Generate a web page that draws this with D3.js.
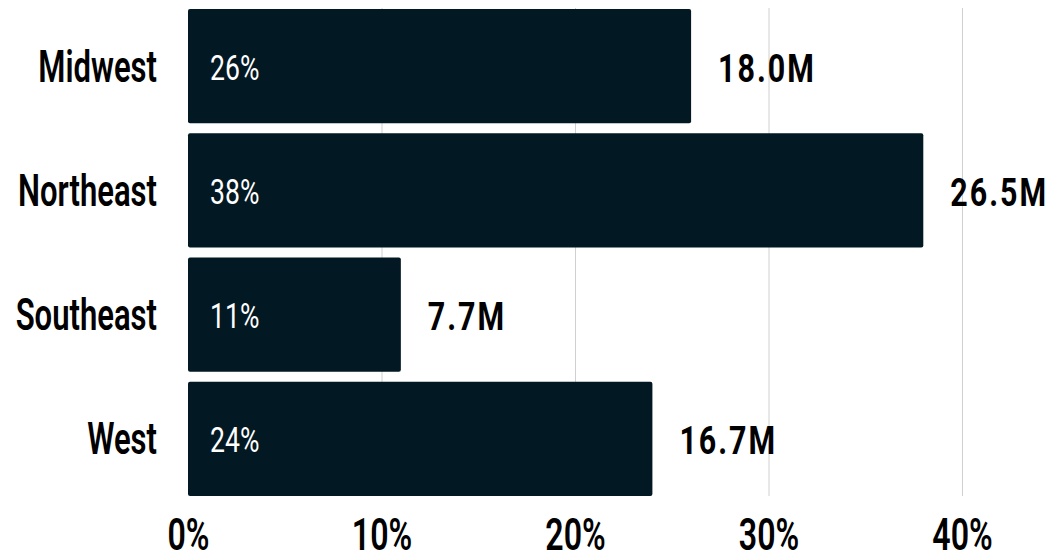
<!DOCTYPE html>
<html><head><meta charset="utf-8">
<script src="https://cdn.jsdelivr.net/npm/d3@7"></script>
<style>
html,body{margin:0;padding:0;background:#fff;}
svg text{font-family:Roboto,"DejaVu Sans",sans-serif;}
</style></head>
<body><svg id="c" width="1051" height="556"></svg>
<script>
const categories = ["Midwest","Northeast","Southeast","West"];
const shares = [26,38,11,24];
const populations = [18.0,26.5,7.7,16.7];
const ticks = [0,10,20,30,40];

const svg = d3.select("#c");
const x = d3.scaleLinear().domain([0,40]).range([188,962]);
const y = d3.scaleBand().domain(categories).range([9,496]).paddingInner(0.08).paddingOuter(0);
const cy = c => y(c)+y.bandwidth()/2;

// gridlines
svg.append("g").selectAll("line").data(ticks.slice(1)).join("line")
  .attr("x1",d=>x(d)+0.5).attr("x2",d=>x(d)+0.5)
  .attr("y1",8).attr("y2",496)
  .attr("stroke","#d0d0d0").attr("stroke-width",1);

const data = categories.map((c,i)=>({c,s:shares[i],p:populations[i]}));

svg.append("g").selectAll("rect").data(data).join("rect")
  .attr("x",x(0)).attr("y",d=>y(d.c))
  .attr("width",d=>x(d.s)-x(0)).attr("height",y.bandwidth())
  .attr("rx",2).attr("fill","#021822");

// inside labels
svg.append("g").selectAll("text").data(data).join("text")
  .attr("transform",d=>`translate(${x(0)+22},${cy(d.c)}) scale(0.76,1)`)
  .attr("dy","0.386em").attr("fill","#fff").attr("font-weight",400)
  .attr("font-size",35).text(d=>d.s+"%");

// value labels
svg.append("g").selectAll("text").data(data).join("text")
  .attr("transform",d=>`translate(${x(d.s)+27},${cy(d.c)}) scale(0.8,1)`)
  .attr("dy","0.41em").attr("fill","#000").attr("font-weight",700)
  .attr("letter-spacing","2.5px")
  .attr("font-size",38).text(d=>d.p.toFixed(1)+"M");

// category axis
const yAxis = d3.axisLeft(y).tickSize(0).tickPadding(0);
const gy = svg.append("g").attr("transform",`translate(${x(0)-31},0)`).call(yAxis);
gy.select(".domain").remove();
gy.selectAll("text").attr("font-size",45).attr("fill","#000").attr("font-weight",600)
  .attr("x",0).attr("dy","0.345em").attr("transform","scale(0.69,1)")
  .style("font-family",'Roboto,"DejaVu Sans",sans-serif');

// x axis
const xAxis = d3.axisBottom(x).tickValues(ticks).tickFormat(d=>d+"%").tickSize(0).tickPadding(0);
const gx = svg.append("g").attr("transform","translate(0,550)").call(xAxis);
gx.select(".domain").remove();
gx.selectAll("text").attr("font-size",44).attr("fill","#000").attr("font-weight",600)
  .attr("y",0).attr("dy",0).attr("transform","scale(0.73,1)")
  .style("font-family",'Roboto,"DejaVu Sans",sans-serif');
</script></body></html>
